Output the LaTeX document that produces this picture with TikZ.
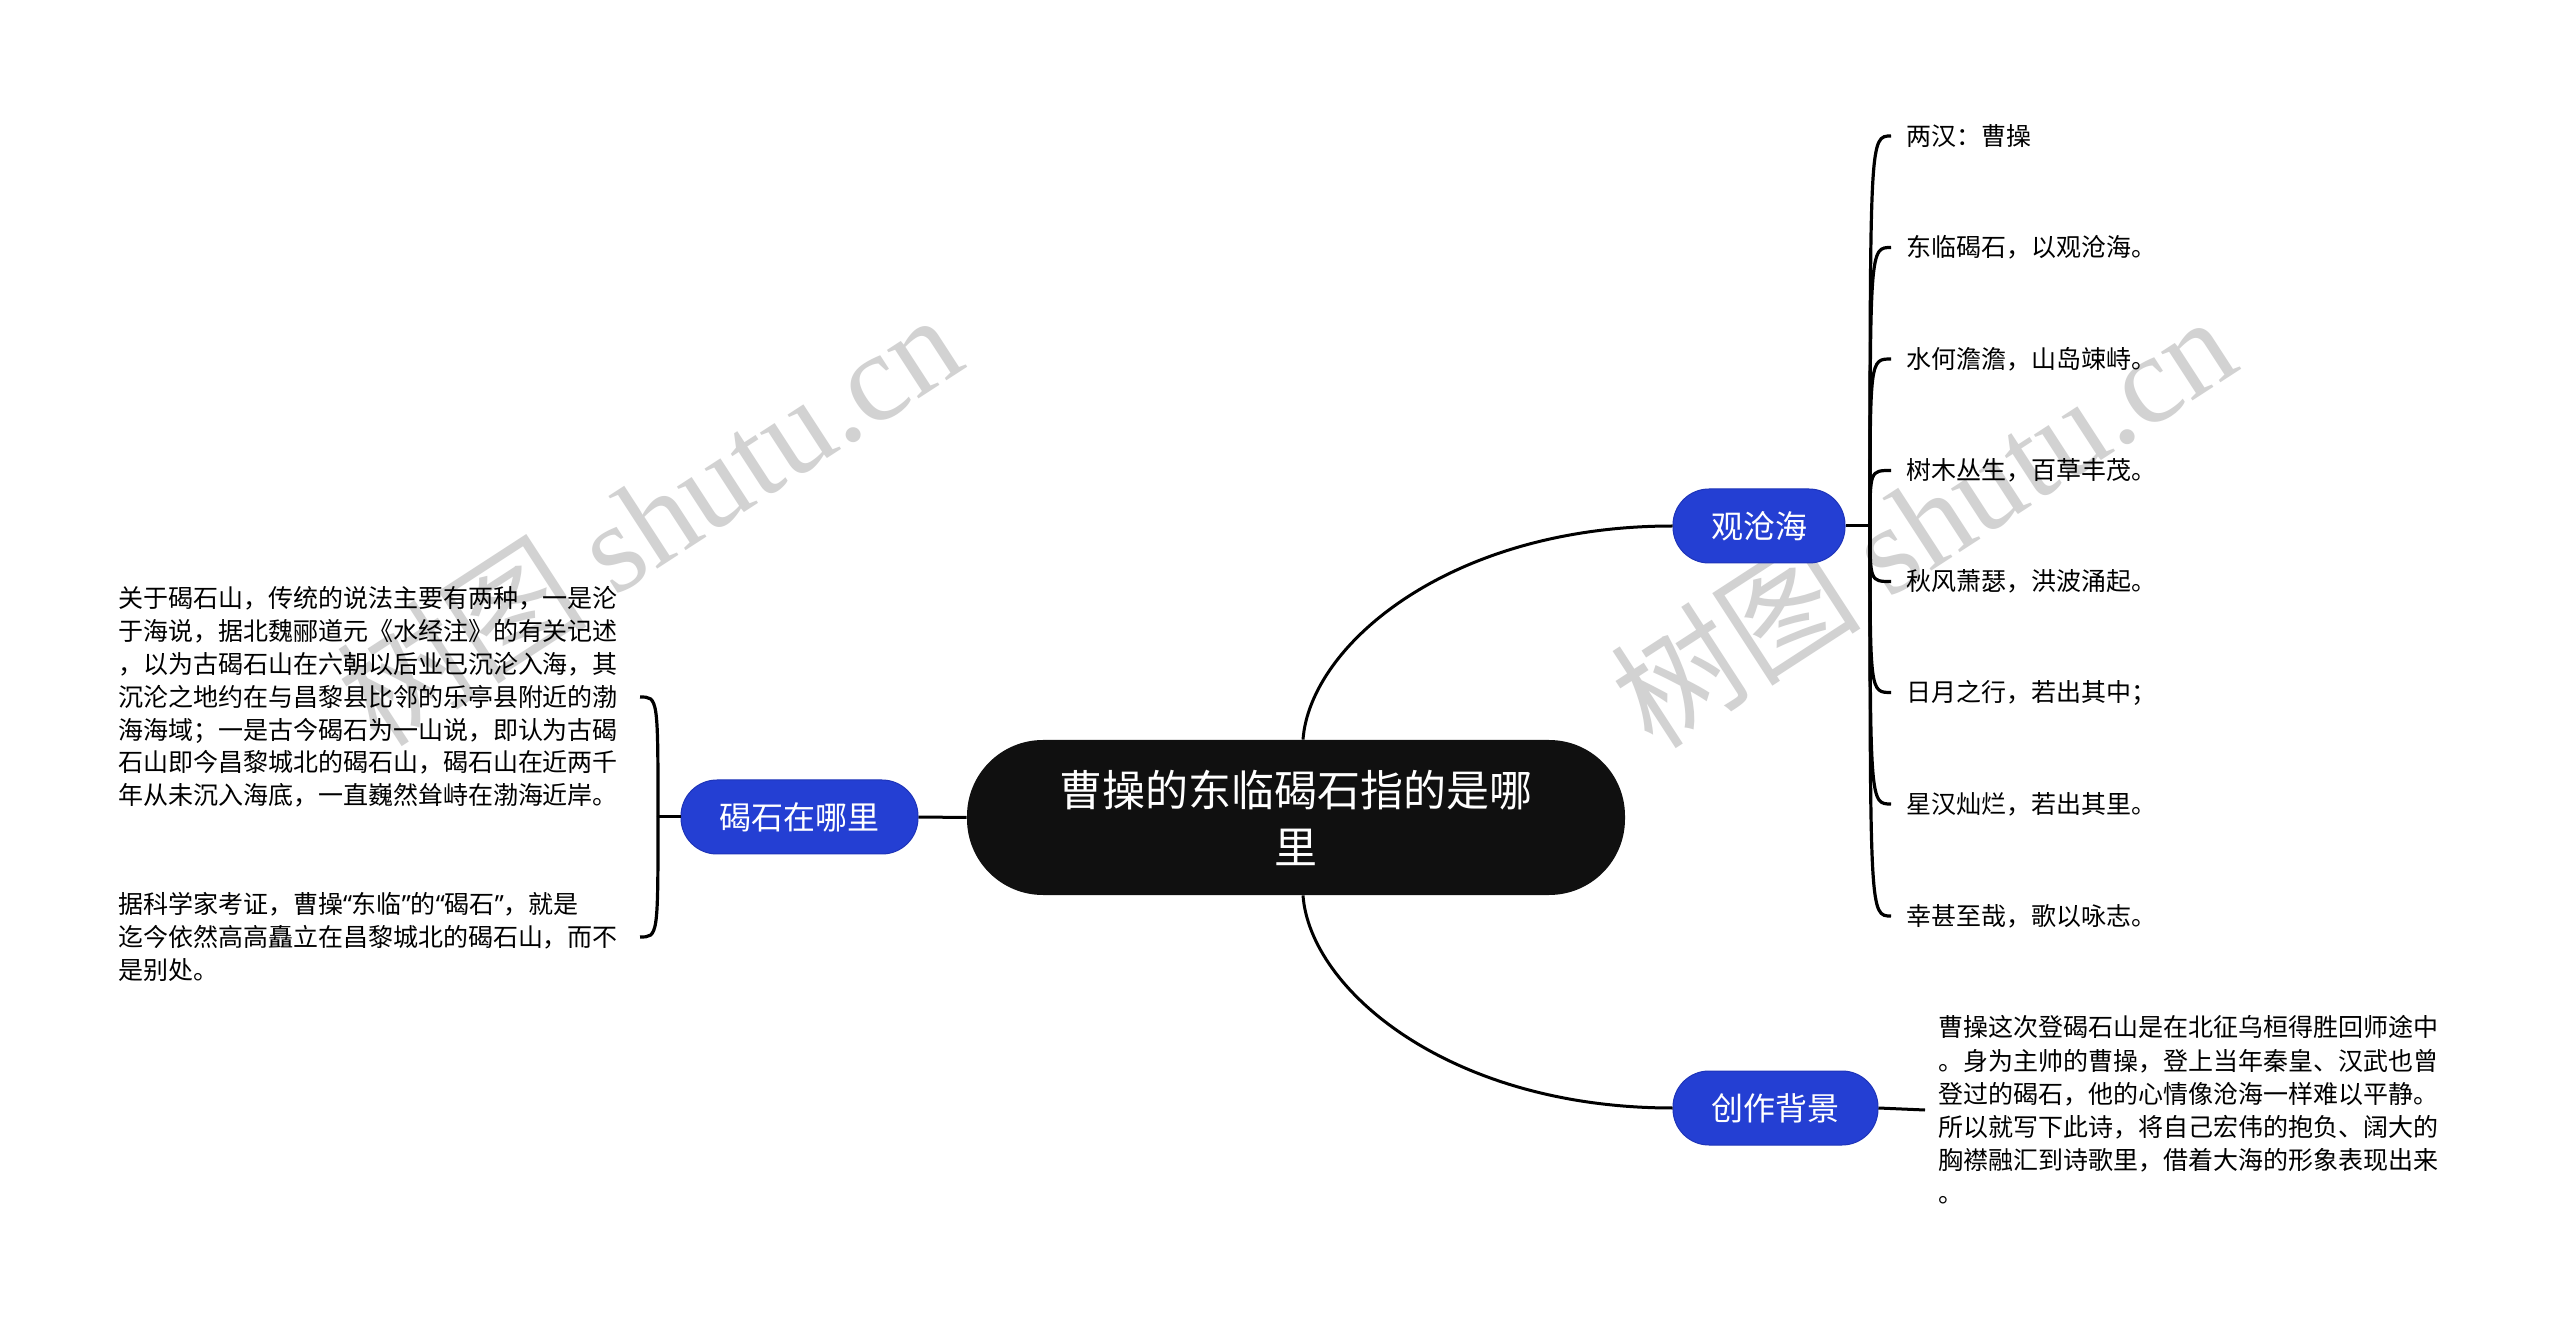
\documentclass[tikz,border=0pt]{standalone}
\usepackage{fontspec}
\setmainfont{Noto Sans CJK SC}
\newfontfamily\wmlatin{Liberation Serif}
\newfontfamily\qfont{Noto Sans}
\usetikzlibrary{calc}
\definecolor{nodeblue}{RGB}{36,63,211}
\definecolor{nodeborder}{RGB}{30,52,185}
\definecolor{rootblack}{RGB}{16,16,16}
\definecolor{wmgray}{RGB}{210,210,210}
\newcommand{\myopenq}{{\qfont “}}
\newcommand{\mycloseq}{{\qfont ”}}
\begin{document}
\begin{tikzpicture}[x=0.5pt,y=-0.5pt,
  conn/.style={line width=1.5pt, black},
  leafconn/.style={line width=1.6pt, black},
  rootbox/.style={fill=rootblack, text=white, rounded corners=38pt, minimum width=329pt, minimum height=77.5pt, inner sep=0pt, align=center, font=\fontsize{21.5}{28.5}\selectfont},
  topicbox/.style={fill=nodeblue, draw=nodeborder, line width=0.5pt, text=white, rounded corners=18pt, minimum height=37pt, inner sep=0pt, font=\fontsize{16}{19}\selectfont},
  leaf/.style={anchor=west, inner xsep=7.5pt, inner ysep=0pt, font=\fontsize{12.5}{16.4}\selectfont},
  para/.style={anchor=east, inner xsep=2pt, outer xsep=9pt, inner ysep=0pt, text width=250pt, align=left, font=\fontsize{12.5}{16.4}\selectfont},
  bgpara/.style={anchor=west, inner xsep=6.5pt, inner ysep=0pt, text width=250pt, align=left, font=\fontsize{12.5}{16.6}\selectfont},
  wm/.style={text=wmgray, rotate=33, inner sep=0pt, font=\fontsize{63}{70}\selectfont}
]
\useasboundingbox (0,0) rectangle (2560,1325);
\fill[white] (0,0) rectangle (2560,1325);

% watermarks
\node[wm] (wm1) at (648,518) {树图 {\wmlatin shutu.cn}};
\node[wm] (wm2) at (1922,520) {树图 {\wmlatin shutu.cn}};

% main nodes
\node[rootbox] (root) at (1296,817.5) {曹操的东临碣石指的是哪\\里};
\node[topicbox, minimum width=118.5pt] (jie) at (799.5,817) {碣石在哪里};
\node[topicbox, minimum width=86pt] (guan) at (1759,526) {观沧海};
\node[topicbox, minimum width=102.5pt] (chuang) at (1775.5,1108) {创作背景};

% left paragraphs
\node[para] (p1) at (640,697) {关于碣石山，传统的说法主要有两种，一是沦\\于海说，据北魏郦道元《水经注》的有关记述\\，以为古碣石山在六朝以后业已沉沦入海，其\\沉沦之地约在与昌黎县比邻的乐亭县附近的渤\\海海域；一是古今碣石为一山说，即认为古碣\\石山即今昌黎城北的碣石山，碣石山在近两千\\年从未沉入海底，一直巍然耸峙在渤海近岸。};
\node[para] (p2) at (640,937) {据科学家考证，曹操\myopenq 东临\mycloseq 的\myopenq 碣石\mycloseq ，就是\\迄今依然高高矗立在昌黎城北的碣石山，而不\\是别处。};

% right leaves
\node[leaf] (l1) at (1891,136) {两汉：曹操};
\node[leaf] (l2) at (1891,247.5) {东临碣石，以观沧海。};
\node[leaf] (l3) at (1891,359) {水何澹澹，山岛竦峙。};
\node[leaf] (l4) at (1891,470.5) {树木丛生，百草丰茂。};
\node[leaf] (l5) at (1891,581.5) {秋风萧瑟，洪波涌起。};
\node[leaf] (l6) at (1891,692.5) {日月之行，若出其中；};
\node[leaf] (l7) at (1891,804) {星汉灿烂，若出其里。};
\node[leaf] (l8) at (1891,916) {幸甚至哉，歌以咏志。};

% background paragraph
\node[bgpara] (bg) at (1925,1110) {曹操这次登碣石山是在北征乌桓得胜回师途中\\。身为主帅的曹操，登上当年秦皇、汉武也曾\\登过的碣石，他的心情像沧海一样难以平静。\\所以就写下此诗，将自己宏伟的抱负、阔大的\\胸襟融汇到诗歌里，借着大海的形象表现出来\\。};

% connectors
\coordinate (rtop) at ([xshift=3.5pt]root.north);
\coordinate (rbot) at ([xshift=3.5pt]root.south);
\draw[conn] (rtop) .. controls (1310,645) and (1450,526) .. (guan.west);
\draw[conn] (rbot) .. controls (1310,990) and (1450,1108) .. (chuang.west);
\draw[conn] (jie.east) -- (root.west);

\coordinate (jtrunk) at (658,817);
\draw[conn] (jie.west) -- (jtrunk);
\draw[leafconn] (jtrunk) .. controls (jtrunk |- p1.east) .. (p1.east);
\draw[leafconn] (jtrunk) .. controls (jtrunk |- p2.east) .. (p2.east);

\coordinate (gtrunk) at (1870,526);
\draw[conn] (guan.east) -- (gtrunk);
\foreach \n in {l1,l2,l3,l4,l5,l6,l7,l8}{
  \draw[leafconn] (gtrunk) .. controls (gtrunk |- \n.west) .. (\n.west);
}

\draw[conn] (chuang.east) -- (bg.west);
\end{tikzpicture}
\end{document}
